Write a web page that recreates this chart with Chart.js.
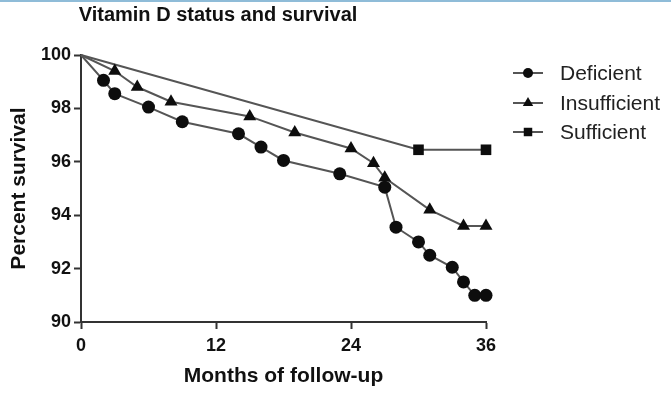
<!DOCTYPE html>
<html>
<head>
<meta charset="utf-8">
<script src="https://cdn.jsdelivr.net/npm/chart.js@4.4.1/dist/chart.umd.min.js"></script>
<style>
  html, body { margin: 0; padding: 0; background: #ffffff; }
  #wrap { position: relative; width: 671px; height: 396px; }
  #topline { position: absolute; left: 0; top: 0; width: 671px; height: 2px; background: #8fbcd8; }
</style>
</head>
<body>
<div id="wrap">
  <canvas id="c" width="671" height="396"></canvas>
  <div id="topline"></div>
</div>
<script>
// ---- data ----
const chartTitle = "Vitamin D status and survival";
const xAxisTitle = "Months of follow-up";
const yAxisTitle = "Percent survival";
const seriesNames = ["Deficient", "Insufficient", "Sufficient"];

const deficientMonths = [0, 2, 3, 6, 9, 14, 16, 18, 23, 27, 28, 30, 31, 33, 34, 35, 36];
const deficientValues = [100, 99.05, 98.55, 98.05, 97.5, 97.05, 96.55, 96.05, 95.55, 95.05, 93.55, 93.0, 92.5, 92.05, 91.5, 91.0, 91.0];

const insufficientMonths = [0, 3, 5, 8, 15, 19, 24, 26, 27, 31, 34, 36];
const insufficientValues = [100, 99.4, 98.8, 98.25, 97.7, 97.1, 96.5, 95.95, 95.4, 94.2, 93.6, 93.6];

const sufficientMonths = [0, 30, 36];
const sufficientValues = [100, 96.45, 96.45];

const xTicks = [0, 12, 24, 36];
const yTicks = [90, 92, 94, 96, 98, 100];
// ---------------------------------------

const FONT = "Arial, 'Liberation Sans', sans-serif";
const lineColor = "#555555";
const markColor = "#0d0d0d";
const styles = ["circle", "triangle", "rect"];
const radii = [6.5, 7.5, 7.5];

function toXY(xs, ys) { return xs.map((x, i) => ({ x: x, y: ys[i] })); }
const seriesData = [
  toXY(deficientMonths, deficientValues),
  toXY(insufficientMonths, insufficientValues),
  toXY(sufficientMonths, sufficientValues)
];

const datasets = seriesData.map((d, k) => ({
  label: seriesNames[k],
  data: d,
  borderColor: lineColor,
  borderWidth: 2,
  backgroundColor: markColor,
  pointBackgroundColor: markColor,
  pointBorderColor: markColor,
  pointBorderWidth: 0,
  pointStyle: styles[k],
  pointRadius: (ctx) => ctx.dataIndex === 0 ? 0 : radii[k],
  pointHoverRadius: (ctx) => ctx.dataIndex === 0 ? 0 : radii[k],
  tension: 0,
  clip: false
}));

const textPlugin = {
  id: 'textPlugin',
  afterDraw(chart) {
    const ctx = chart.ctx;
    ctx.save();
    // title
    ctx.fillStyle = "#111111";
    ctx.font = "bold 20px " + FONT;
    ctx.textAlign = "center";
    ctx.textBaseline = "middle";
    ctx.fillText(chartTitle, 218, 15);
    // legend
    const legendRows = [73, 103, 132];
    const legendRadii = [5, 6, 6];
    for (let k = 0; k < seriesNames.length; k++) {
      const y = legendRows[k];
      ctx.strokeStyle = lineColor;
      ctx.lineWidth = 2;
      ctx.beginPath();
      ctx.moveTo(513, y);
      ctx.lineTo(543, y);
      ctx.stroke();
      ctx.fillStyle = markColor;
      ctx.strokeStyle = markColor;
      Chart.helpers.drawPoint(ctx, { pointStyle: styles[k], radius: legendRadii[k], borderWidth: 0, rotation: 0 }, 528, y);
      ctx.fillStyle = "#222222";
      ctx.font = "21px " + FONT;
      ctx.textAlign = "left";
      ctx.textBaseline = "middle";
      ctx.fillText(seriesNames[k], 560, y + 1);
    }
    ctx.restore();
  }
};

new Chart(document.getElementById('c'), {
  type: 'line',
  data: { datasets: datasets },
  options: {
    responsive: false,
    animation: false,
    devicePixelRatio: 1,
    layout: { padding: { top: 55, right: 185, left: 0, bottom: 0 } },
    plugins: {
      legend: { display: false },
      title: { display: false },
      tooltip: { enabled: false }
    },
    scales: {
      x: {
        type: 'linear',
        min: 0,
        max: 36,
        afterFit(scale) { scale.height = 74; },
        afterBuildTicks(scale) { scale.ticks = xTicks.map(v => ({ value: v })); },
        grid: { display: true, drawOnChartArea: false, drawTicks: true, tickLength: 7, tickWidth: 2, tickColor: "#333333" },
        border: { display: true, color: "#333333", width: 2 },
        ticks: { color: "#111111", font: { family: FONT, size: 18, weight: 'bold' }, padding: 6, maxRotation: 0, autoSkip: false },
        title: { display: true, text: xAxisTitle, color: "#111111", font: { family: FONT, size: 21, weight: 'bold' }, padding: { top: 0, bottom: 7 } }
      },
      y: {
        type: 'linear',
        min: 90,
        max: 100,
        afterFit(scale) { scale.width = 81; },
        afterBuildTicks(scale) { scale.ticks = yTicks.map(v => ({ value: v })); },
        grid: { display: true, drawOnChartArea: false, drawTicks: true, tickLength: 7, tickWidth: 2, tickColor: "#333333" },
        border: { display: true, color: "#333333", width: 2 },
        ticks: { color: "#111111", font: { family: FONT, size: 18, weight: 'bold' }, padding: 3, autoSkip: false },
        title: { display: true, text: yAxisTitle, color: "#111111", font: { family: FONT, size: 21, weight: 'bold' }, padding: { top: 7, bottom: 4 } }
      }
    }
  },
  plugins: [textPlugin]
});
</script>
</body>
</html>
